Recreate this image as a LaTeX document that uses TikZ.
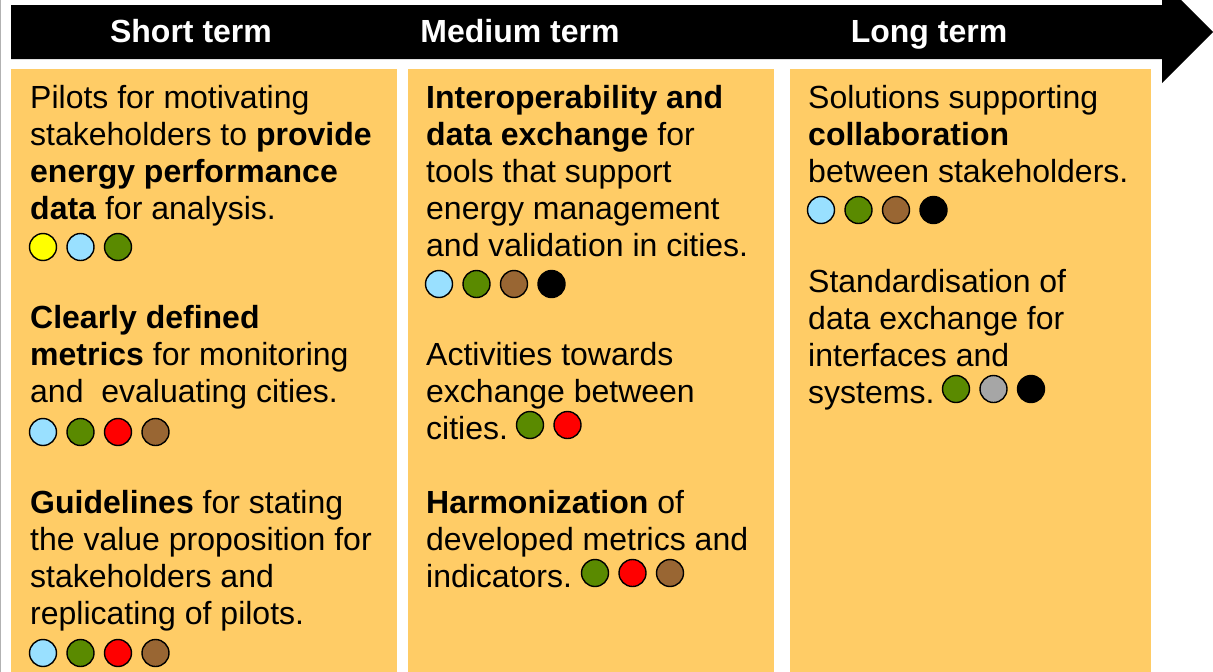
\documentclass[tikz,border=0pt]{standalone}
\usepackage{fontspec}
\setmainfont{Liberation Sans}
\definecolor{panel}{HTML}{FFCC66}
\definecolor{dotyellow}{HTML}{FFFF00}
\definecolor{dotblue}{HTML}{99E0FF}
\definecolor{dotgreen}{HTML}{5A8A00}
\definecolor{dotred}{HTML}{FF0000}
\definecolor{dotbrown}{HTML}{996633}
\definecolor{dotgrey}{HTML}{A6A6A6}
\tikzset{
  term/.style={anchor=base, text=white, inner sep=0, font=\fontsize{32}{37}\selectfont\bfseries},
  para/.style={anchor=base west, align=left, inner sep=0, font=\fontsize{32}{37}\selectfont},
  column/.style={fill=panel, draw=none},
}
% row of coloured dots: x, y, colours
\newcommand{\dotrow}[3]{%
  \foreach \c [count=\i from 0] in {#3}
    \draw[line width=1.4pt, fill=\c] ({#1+37.5*\i},#2) circle[radius=13.5pt];}

\begin{document}
\begin{tikzpicture}[x=1pt,y=-1pt]
\useasboundingbox (0,0) rectangle (1213,672);
\clip (0,0) rectangle (1213,672);
\draw[gray!60, line width=1pt] (0.5,0) -- (0.5,672);
% time arrow
\fill (11,5) -- (1162,5) -- (1162,-19) -- (1213,32) -- (1162,83) -- (1162,59) -- (11,59) -- cycle;
\node[term] (short) at (191,42) {Short term};
\node[term] (medium) at (520,42) {Medium term};
\node[term] (long) at (929,42) {Long term};
% columns
\fill[column] (11,69) rectangle (397,672);
\fill[column] (408,69) rectangle (774,672);
\fill[column] (790,69) rectangle (1151,672);
% short term (nodes sit on the baseline of their last line)
\node[para] (pilots) at (30,219) {Pilots for motivating\\stakeholders to \textbf{provide}\\\textbf{energy performance}\\\textbf{data} for analysis.};
\dotrow{43}{247}{dotyellow,dotblue,dotgreen}
\node[para] (metrics) at (30,402) {\textbf{Clearly defined}\\\textbf{metrics} for monitoring\\and~ evaluating cities.};
\dotrow{43}{432}{dotblue,dotgreen,dotred,dotbrown}
\node[para] (guide) at (30,624) {\textbf{Guidelines} for stating\\the value proposition for\\stakeholders and\\replicating of pilots.};
\dotrow{43}{653}{dotblue,dotgreen,dotred,dotbrown}
% medium term
\node[para] (interop) at (426,256) {\textbf{Interoperability and}\\\textbf{data exchange} for\\tools that support\\energy management\\and validation in cities.};
\dotrow{439}{284}{dotblue,dotgreen,dotbrown,black}
\node[para] (activ) at (426,439) {Activities towards\\exchange between\\cities.};
\dotrow{530}{425}{dotgreen,dotred}
\node[para] (harmon) at (426,587) {\textbf{Harmonization} of\\developed metrics and\\indicators.};
\dotrow{595}{573}{dotgreen,dotred,dotbrown}
% long term
\node[para] (collab) at (808,182) {Solutions supporting\\\textbf{collaboration}\\between stakeholders.};
\dotrow{821}{210}{dotblue,dotgreen,dotbrown,black}
\node[para] (standard) at (808,403) {Standardisation of\\data exchange for\\interfaces and\\systems.};
\dotrow{956}{389}{dotgreen,dotgrey,black}
\end{tikzpicture}
\end{document}
